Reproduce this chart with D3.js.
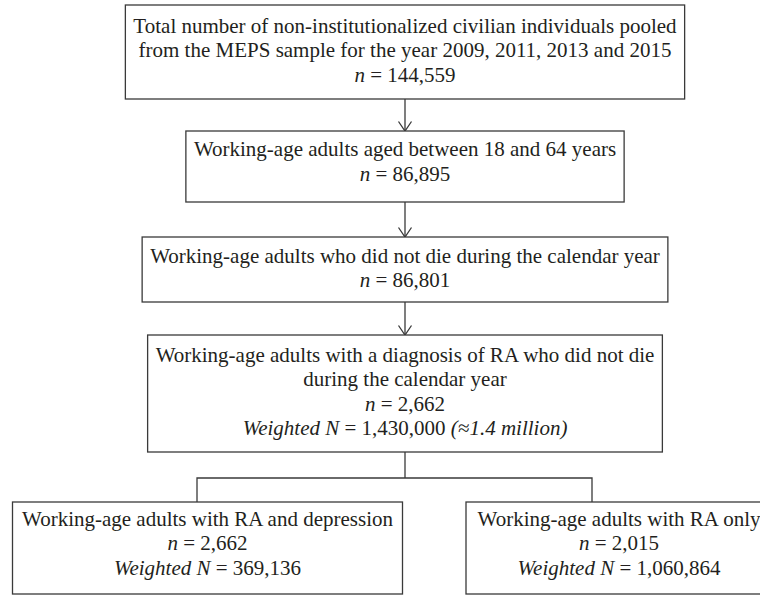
<!DOCTYPE html>
<html>
<head>
<meta charset="utf-8">
<script src="https://cdn.jsdelivr.net/npm/d3@7"></script>
<style>
  html, body { margin: 0; padding: 0; background: #fff; }
  svg { display: block; }
  text { font-family: "Liberation Serif", "DejaVu Serif", serif; fill: #231f20; }
</style>
</head>
<body>
<svg id="chart" width="760" height="595"></svg>
<script>
// ---- data ----
const stepLabels = [
  ["Total number of non-institutionalized civilian individuals pooled",
   "from the MEPS sample for the year 2009, 2011, 2013 and 2015"],
  ["Working-age adults aged between 18 and 64 years"],
  ["Working-age adults who did not die during the calendar year"],
  ["Working-age adults with a diagnosis of RA who did not die",
   "during the calendar year"]
];
const stepCounts = ["144,559", "86,895", "86,801", "2,662"];
const stepWeighted = [null, null, null, ["1,430,000", "(≈1.4 million)"]];

const branchLabels = ["Working-age adults with RA and depression", "Working-age adults with RA only"];
const branchCounts = ["2,662", "2,015"];
const branchWeighted = [["369,136", null], ["1,060,864", null]];

// ---- layout ----
const svg = d3.select("#chart");
const FS = 21, LH = 24.5;
const cx = 405;
const stroke = "#3a3a3a", sw = 1.3;

const stepY = [[5, 99], [131, 202], [237, 302], [335, 452]];
const stepFirstBase = [32.5, 156, 262.5, 361.5];
const stepPad = [8, 8, 8, 8];

function buildLines(label, count, weighted) {
  const lines = label.map(t => [{t, i: false}]);
  lines.push([{t: "n", i: true}, {t: " = " + count, i: false}]);
  if (weighted) {
    const l = [{t: "Weighted N", i: true}, {t: " = " + weighted[0], i: false}];
    if (weighted[1]) l.push({t: " " + weighted[1], i: true});
    lines.push(l);
  }
  return lines;
}

function drawText(g, lines, x, y0) {
  const texts = [];
  lines.forEach((parts, k) => {
    const t = g.append("text")
      .attr("x", x).attr("y", y0 + k * LH)
      .attr("text-anchor", "middle")
      .style("font-size", FS + "px");
    parts.forEach(p => {
      t.append("tspan").text(p.t).style("font-style", p.i ? "italic" : "normal");
    });
    texts.push(t);
  });
  return texts;
}

function arrow(g, x, y1, y2) {
  g.append("line").attr("x1", x).attr("x2", x).attr("y1", y1).attr("y2", y2)
    .attr("stroke", stroke).attr("stroke-width", sw);
  g.append("path")
    .attr("d", d3.line()([[x - 6.5, y2 - 9.5], [x, y2], [x + 6.5, y2 - 9.5]]))
    .attr("fill", "none").attr("stroke", stroke).attr("stroke-width", sw);
}

const g = svg.append("g");

stepLabels.forEach((label, i) => {
  const lines = buildLines(label, stepCounts[i], stepWeighted[i]);
  const bg = g.append("g");
  const texts = drawText(bg, lines, cx, stepFirstBase[i]);
  const w = d3.max(texts, t => t.node().getComputedTextLength()) + 2 * stepPad[i];
  bg.insert("rect", ":first-child")
    .attr("x", cx - w / 2).attr("y", stepY[i][0])
    .attr("width", w).attr("height", stepY[i][1] - stepY[i][0])
    .attr("fill", "#fff").attr("stroke", stroke).attr("stroke-width", sw);
  if (i < stepLabels.length - 1) arrow(g, cx, stepY[i][1], stepY[i + 1][0]);
});

// branch connector
const splitY = 478, childTop = 502, childBottom = 594;
const childBox = [[12.5, 402.5], [466, 772]];
const dropX = [197, 592];
g.append("path")
  .attr("d", d3.line()([[cx, stepY[3][1]], [cx, splitY]]))
  .attr("fill", "none").attr("stroke", stroke).attr("stroke-width", sw);
g.append("path")
  .attr("d", d3.line()([[dropX[0], childTop], [dropX[0], splitY], [dropX[1], splitY], [dropX[1], childTop]]))
  .attr("fill", "none").attr("stroke", stroke).attr("stroke-width", sw);

branchLabels.forEach((label, i) => {
  const [x0, x1] = childBox[i];
  g.append("rect").attr("x", x0).attr("y", childTop)
    .attr("width", x1 - x0).attr("height", childBottom - childTop)
    .attr("fill", "#fff").attr("stroke", stroke).attr("stroke-width", sw);
  drawText(g, buildLines([label], branchCounts[i], branchWeighted[i]), (x0 + x1) / 2, 525.5);
});
</script>
</body>
</html>
